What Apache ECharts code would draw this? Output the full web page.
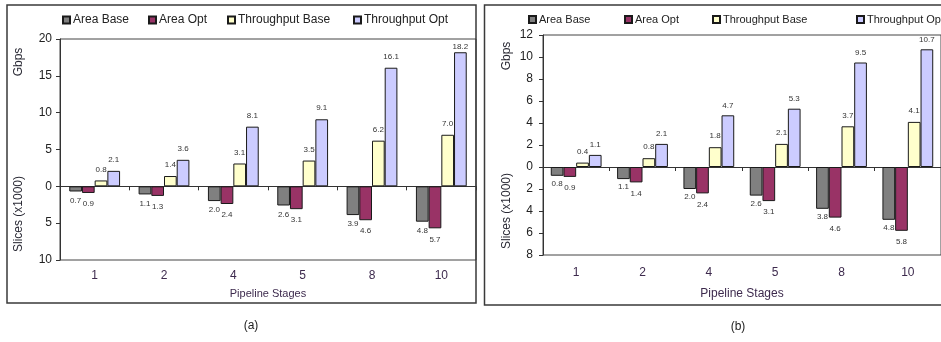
<!DOCTYPE html>
<html>
<head>
<meta charset="utf-8">
<script src="https://cdn.jsdelivr.net/npm/echarts@6/dist/echarts.min.js"></script>
<style>
  html, body { margin: 0; padding: 0; background: #ffffff; }
  #chart { width: 941px; height: 342px; }
</style>
</head>
<body>
<div id="chart"></div>
<script>
// Pipeline stage counts on the category axis
const stages = ['1', '2', '4', '5', '8', '10'];
const seriesNames = ['Area Base', 'Area Opt', 'Throughput Base', 'Throughput Opt'];

// Panel (a): slices (x1000) drawn downward, throughput (Gbps) upward
const areaBaseA = [0.7, 1.1, 2.0, 2.6, 3.9, 4.8];
const areaOptA = [0.9, 1.3, 2.4, 3.1, 4.6, 5.7];
const tputBaseA = [0.8, 1.4, 3.1, 3.5, 6.2, 7.0];
const tputOptA = [2.1, 3.6, 8.1, 9.1, 16.1, 18.2];

// Panel (b)
const areaBaseB = [0.8, 1.1, 2.0, 2.6, 3.8, 4.8];
const areaOptB = [0.9, 1.4, 2.4, 3.1, 4.6, 5.8];
const tputBaseB = [0.4, 0.8, 1.8, 2.1, 3.7, 4.1];
const tputOptB = [1.1, 2.1, 4.7, 5.3, 9.5, 10.7];

// Value-axis ranges
const yRangeA = { min: -10, max: 20, interval: 5 };
const yRangeB = { min: -8, max: 12, interval: 2 };

const FONT = 'Liberation Sans, Arial, sans-serif';
const colors = ['#808080', '#993366', '#ffffcc', '#ccccff'];
const textDark = '#222222';
const catColor = '#3d2a4d';

function barSeries(name, data, xIdx, yIdx, color, downward, dist) {
  return {
    type: 'bar',
    name: name,
    xAxisIndex: xIdx,
    yAxisIndex: yIdx,
    barWidth: 12.7,
    barGap: '0%',
    data: data,
    itemStyle: { color: color, borderColor: '#1a1a1a', borderWidth: 1 },
    label: {
      show: true,
      position: downward ? 'bottom' : 'top',
      distance: dist,
      fontSize: 8,
      fontFamily: FONT,
      color: '#333333',
      formatter: p => Math.abs(p.value).toFixed(1)
    },
    animation: false
  };
}

function neg(arr) { return arr.map(v => -v); }

const grids = [
  { left: 60, top: 39, right: 941 - 476, bottom: 342 - 260 },
  { left: 543, top: 35, right: 941 - 952, bottom: 342 - 255 }
];

function labelAxis(gridIndex, margin, nameGap, nameSize) {
  return {
    type: 'category', gridIndex: gridIndex, data: stages, position: 'bottom',
    axisLine: { show: false, onZero: false },
    axisTick: { show: false },
    axisLabel: { margin: margin, fontSize: 12, fontFamily: FONT, color: catColor },
    name: 'Pipeline Stages', nameLocation: 'middle', nameGap: nameGap,
    nameTextStyle: { fontSize: nameSize, fontFamily: FONT, color: catColor }
  };
}
function zeroAxis(gridIndex) {
  return {
    type: 'category', gridIndex: gridIndex, data: stages, position: 'bottom',
    axisLine: { show: true, onZero: true, lineStyle: { color: '#333333', width: 1 } },
    axisTick: { show: true, length: 4, lineStyle: { color: '#333333' } },
    axisLabel: { show: false }
  };
}
function valueAxis(gridIndex, range, margin) {
  return {
    type: 'value', gridIndex: gridIndex,
    min: range.min, max: range.max, interval: range.interval,
    splitLine: { show: false },
    axisLine: { show: true, onZero: false, lineStyle: { color: '#333333' } },
    axisTick: { show: true, length: 4, lineStyle: { color: '#333333' } },
    axisLabel: { margin: margin, fontSize: 12, fontFamily: FONT, color: textDark,
      formatter: v => String(Math.abs(v)) }
  };
}

// The tallest bar in (a) reaches the plot top, so its label sits closer
const tputOptAData = tputOptA.map((v, i) => i === tputOptA.length - 1 ? { value: v, label: { distance: 1 } } : v);

const series = [
  barSeries(seriesNames[0], neg(areaBaseA), 0, 0, colors[0], true, 5),
  barSeries(seriesNames[1], neg(areaOptA), 0, 0, colors[1], true, 7),
  barSeries(seriesNames[2], tputBaseA, 0, 0, colors[2], false, 7),
  barSeries(seriesNames[3], tputOptAData, 0, 0, colors[3], false, 7),
  barSeries(seriesNames[0], neg(areaBaseB), 2, 1, colors[0], true, 4),
  barSeries(seriesNames[1], neg(areaOptB), 2, 1, colors[1], true, 7),
  barSeries(seriesNames[2], tputBaseB, 2, 1, colors[2], false, 7),
  barSeries(seriesNames[3], tputOptB, 2, 1, colors[3], false, 6)
];

function legendItem(name, left, size) {
  return {
    data: [name], left: left, top: 9, selectedMode: false,
    icon: 'rect', itemWidth: 7, itemHeight: 7, itemGap: 0,
    textStyle: { fontSize: size, fontFamily: FONT, color: textDark, padding: [0, 0, 0, -2] }
  };
}

const legendLeftA = [57, 143, 222, 348];
const legendLeftB = [523, 619, 707, 851];
const legends = [];
seriesNames.forEach((n, i) => legends.push(legendItem(n, legendLeftA[i], 12)));
seriesNames.forEach((n, i) => legends.push(legendItem(n, legendLeftB[i], 11)));

function vText(text, x, y) {
  return {
    type: 'text', x: x, y: y, rotation: Math.PI / 2,
    style: { text: text, fontSize: 12, fontFamily: FONT, fill: '#2a2a35',
      align: 'center', verticalAlign: 'middle' }
  };
}

const chart = echarts.init(document.getElementById('chart'), null, { renderer: 'canvas' });
chart.setOption({
  animation: false,
  backgroundColor: '#ffffff',
  grid: grids.map(g => Object.assign({ show: true, borderColor: '#444444', borderWidth: 1, backgroundColor: 'transparent' }, g)),
  xAxis: [labelAxis(0, 10, 28, 11), zeroAxis(0), labelAxis(1, 12, 33, 12), zeroAxis(1)],
  yAxis: [valueAxis(0, yRangeA, 8), valueAxis(1, yRangeB, 10)],
  legend: legends,
  series: series,
  graphic: [
    { type: 'rect', shape: { x: 7, y: 5, width: 469, height: 298 }, style: { fill: 'none', stroke: '#3a3a3a', lineWidth: 1.5 }, z: 100 },
    { type: 'rect', shape: { x: 484.5, y: 5, width: 470, height: 300 }, style: { fill: 'none', stroke: '#3a3a3a', lineWidth: 1.5 }, z: 100 },
    vText('Gbps', 19, 62),
    vText('Slices (x1000)', 19, 214),
    vText('Gbps', 507, 56),
    vText('Slices (x1000)', 507, 211),
    { type: 'text', x: 251, y: 326, style: { text: '(a)', fontSize: 12, fontFamily: FONT, fill: textDark, align: 'center', verticalAlign: 'middle' } },
    { type: 'text', x: 738, y: 327, style: { text: '(b)', fontSize: 12, fontFamily: FONT, fill: textDark, align: 'center', verticalAlign: 'middle' } }
  ]
});
</script>
</body>
</html>
